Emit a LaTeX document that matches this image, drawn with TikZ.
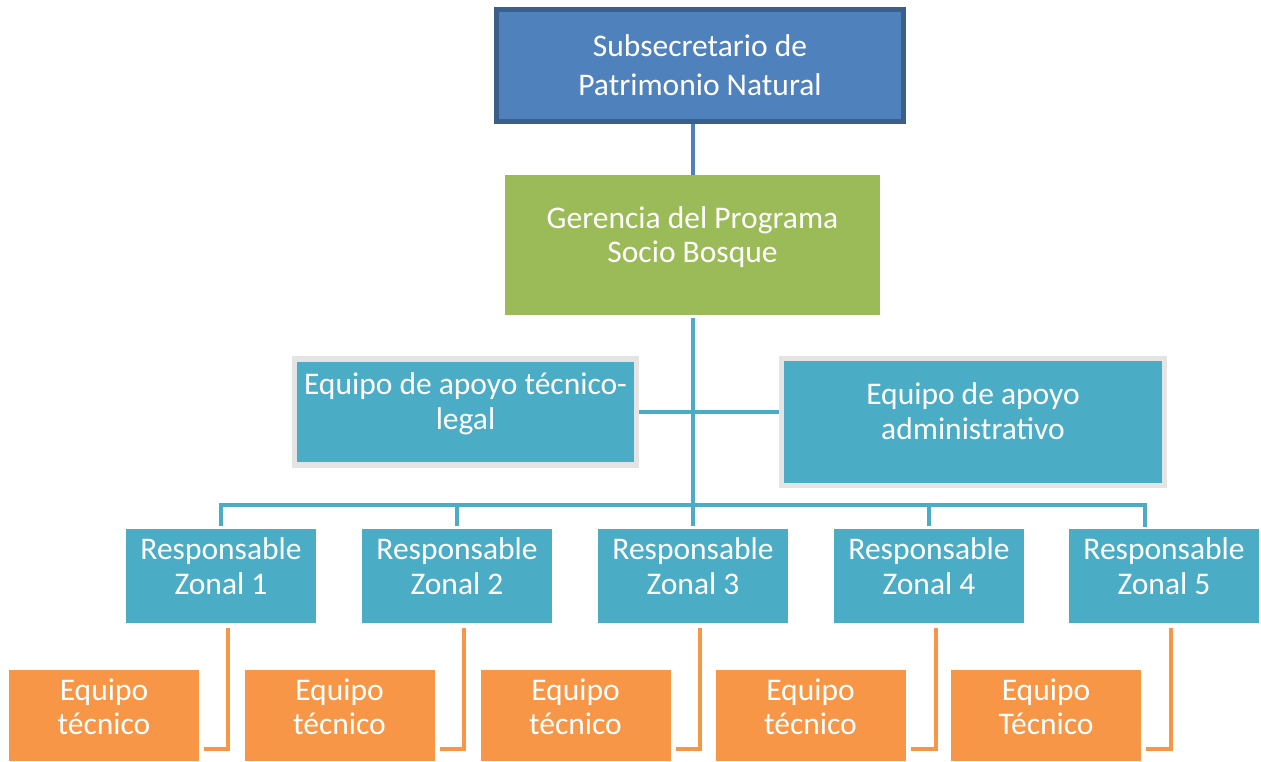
\documentclass[tikz,border=0pt]{standalone}
\usepackage{fontspec}
\setmainfont{Carlito}
\usepackage{tikz}
\definecolor{subblue}{HTML}{4F81BD}
\definecolor{subborder}{HTML}{3A5F8B}
\definecolor{gerenciagreen}{HTML}{9BBB59}
\definecolor{apoyoteal}{HTML}{4BACC6}
\definecolor{equipoorange}{HTML}{F79646}
\definecolor{framegray}{HTML}{E4E4E4}
\newcommand{\boxfont}{\fontsize{31.5}{34.5}\selectfont}
\newcommand{\topfont}{\fontsize{31.5}{39}\selectfont}

\begin{document}
\begin{tikzpicture}[x=1pt,y=-1pt,line join=miter,
    orgbox/.style={rectangle,inner sep=0pt},
    boxtext/.style={align=center,text=white,font=\boxfont},
    zonal/.style={orgbox,fill=apoyoteal,minimum width=190pt,minimum height=94pt},
    equipo/.style={orgbox,fill=equipoorange,minimum width=190pt,minimum height=91pt},
    tealline/.style={draw=apoyoteal,line width=4pt},
    orangeline/.style={draw=equipoorange,line width=4pt}]
        \useasboundingbox (0,0) rectangle (1261,761);
        %
        \node[orgbox] (subsecretario) at (700,65.5) [fill=subblue,draw=subborder,line width=5pt,minimum width=407pt,minimum height=112pt,label={[boxtext,font=\topfont]center:{Subsecretario de\\Patrimonio Natural}}] {};
        \node[orgbox] (gerencia) at (692.5,245) [fill=gerenciagreen,minimum width=375pt,minimum height=140pt,label={[boxtext,yshift=8pt]center:{Gerencia del Programa\\Socio Bosque}}] {};
        \node[orgbox] (legal) at (465.5,412) [fill=apoyoteal,draw=framegray,line width=5.5pt,minimum width=342pt,minimum height=106pt,label={[boxtext,yshift=8pt]center:{Equipo de apoyo técnico-\\legal}}] {};
        \node[orgbox] (admin) at (973,422) [fill=apoyoteal,draw=framegray,line width=5.5pt,minimum width=383pt,minimum height=127pt,label={[boxtext,yshift=11pt]center:{Equipo de apoyo\\administrativo}}] {};
        %
        \node[zonal] (zonal1) at (221,576) [label={[boxtext,yshift=10pt]center:{Responsable\\Zonal 1}}] {};
        \node[zonal] (zonal2) at (457,576) [label={[boxtext,yshift=10pt]center:{Responsable\\Zonal 2}}] {};
        \node[zonal] (zonal3) at (693,576) [label={[boxtext,yshift=10pt]center:{Responsable\\Zonal 3}}] {};
        \node[zonal] (zonal4) at (929,576) [label={[boxtext,yshift=10pt]center:{Responsable\\Zonal 4}}] {};
        \node[zonal] (zonal5) at (1164,576) [label={[boxtext,yshift=10pt]center:{Responsable\\Zonal 5}}] {};
        %
        \node[equipo] (equipo1) at (104,715.5) [label={[boxtext,yshift=8.5pt]center:{Equipo\\técnico}}] {};
        \node[equipo] (equipo2) at (339.5,715.5) [label={[boxtext,yshift=8.5pt]center:{Equipo\\técnico}}] {};
        \node[equipo] (equipo3) at (575.5,715.5) [label={[boxtext,yshift=8.5pt]center:{Equipo\\técnico}}] {};
        \node[equipo] (equipo4) at (810.5,715.5) [label={[boxtext,yshift=8.5pt]center:{Equipo\\técnico}}] {};
        \node[equipo] (equipo5) at (1046,715.5) [label={[boxtext,yshift=8.5pt]center:{Equipo\\Técnico}}] {};
        %
        \coordinate (bus) at (0,505);
        \coordinate (drop5) at (1145,526.5);
        %
        \draw [draw=subblue,line width=4pt] (gerencia.north) -- (gerencia.north |- subsecretario.south);
        \draw [tealline] ([yshift=-3pt]gerencia.south) -- (gerencia.south |- bus);
        \draw [tealline] (legal.east) -- (legal.east -| admin.west);
        \draw [tealline] ([yshift=2.5pt]zonal1.north) |- (bus -| drop5) -- (drop5);
        \draw [tealline] (zonal2.north |- bus) -- ([yshift=2.5pt]zonal2.north);
        \draw [tealline] (zonal3.north |- bus) -- ([yshift=2.5pt]zonal3.north);
        \draw [tealline] (zonal4.north |- bus) -- ([yshift=2.5pt]zonal4.north);
        %
        \draw [orangeline] ([xshift=7pt,yshift=-5pt]zonal1.south) |- ([xshift=5pt,yshift=12pt]equipo1.south east);
        \draw [orangeline] ([xshift=7pt,yshift=-5pt]zonal2.south) |- ([xshift=5pt,yshift=12pt]equipo2.south east);
        \draw [orangeline] ([xshift=7pt,yshift=-5pt]zonal3.south) |- ([xshift=5pt,yshift=12pt]equipo3.south east);
        \draw [orangeline] ([xshift=7pt,yshift=-5pt]zonal4.south) |- ([xshift=5pt,yshift=12pt]equipo4.south east);
        \draw [orangeline] ([xshift=7pt,yshift=-5pt]zonal5.south) |- ([xshift=5pt,yshift=12pt]equipo5.south east);
        %
\end{tikzpicture}
\end{document}
